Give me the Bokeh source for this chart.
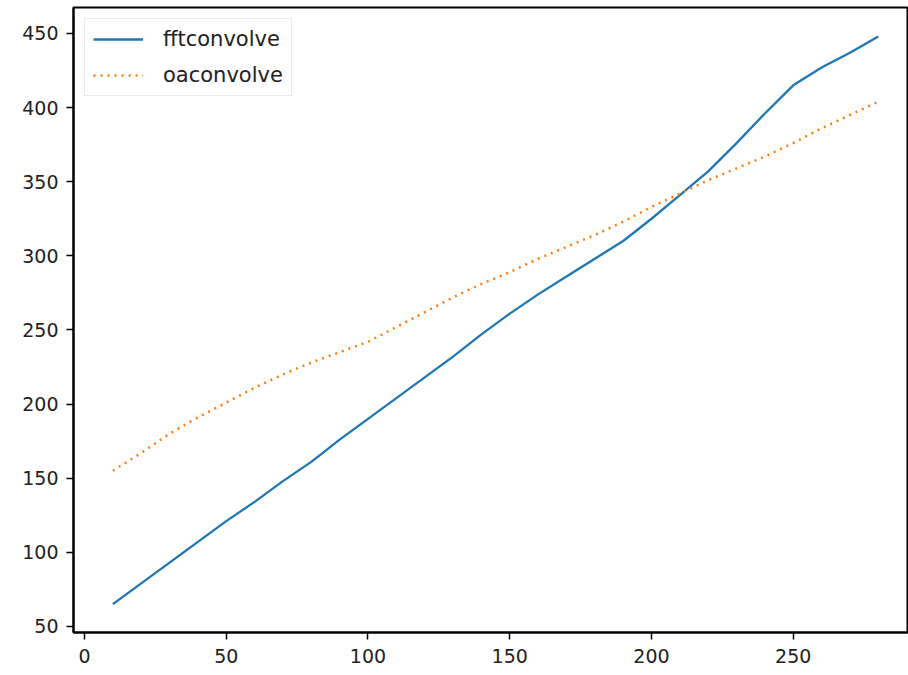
from bokeh.plotting import figure
from bokeh.models import Range1d, FixedTicker, Legend, LegendItem
from bokeh.embed import file_html
from bokeh.resources import INLINE

x_values = [10, 20, 30, 40, 50, 60, 70, 80, 90, 100, 110, 120, 130, 140,
            150, 160, 170, 180, 190, 200, 210, 220, 230, 240, 250, 260, 270, 280]
fftconvolve = [65, 79, 93, 107, 121, 134, 148, 161, 176, 190, 204, 218, 232, 247,
               261, 274, 286, 298, 310, 325, 341, 357, 376, 396, 415, 427, 437, 448]
oaconvolve = [155, 167, 180, 191, 201, 211, 220, 228, 235, 242, 252, 262, 272, 281,
              289, 298, 306, 314, 323, 333, 342, 351, 359, 367, 376, 386, 395, 404]
x_ticks = [0, 50, 100, 150, 200, 250]
y_ticks = [50, 100, 150, 200, 250, 300, 350, 400, 450]

p = figure(width=908, height=675, output_backend="svg", toolbar_location=None,
           x_range=Range1d(-3.88, 290.3), y_range=Range1d(45.9, 467.5))
p.min_border_left = 73
p.min_border_right = 1
p.min_border_top = 7
p.min_border_bottom = 43
p.background_fill_color = "white"
p.border_fill_color = "white"
p.outline_line_color = "black"
p.outline_line_width = 2
p.xgrid.visible = False
p.ygrid.visible = False

for ax in (p.xaxis[0], p.yaxis[0]):
    ax.axis_line_color = "black"
    ax.axis_line_width = 2
    ax.major_tick_line_color = "black"
    ax.major_tick_line_width = 1.5
    ax.major_tick_out = 7
    ax.major_tick_in = 0
    ax.minor_tick_line_color = None
    ax.major_label_text_font = "DejaVu Sans"
    ax.major_label_text_font_size = "19px"
    ax.major_label_text_color = "#222222"
p.xaxis[0].ticker = FixedTicker(ticks=x_ticks)
p.yaxis[0].ticker = FixedTicker(ticks=y_ticks)
p.xaxis[0].major_label_standoff = 9
p.yaxis[0].major_label_standoff = 8

r1 = p.line(x_values, fftconvolve, line_color="#1f77b4", line_width=2.3)
r2 = p.line(x_values, oaconvolve, line_color="#ff7f0e", line_width=2.5,
            line_dash="2 5")

legend = Legend(items=[LegendItem(label="fftconvolve", renderers=[r1]),
                       LegendItem(label="oaconvolve", renderers=[r2])],
                location="top_left")
legend.margin = 11
legend.padding = 8
legend.spacing = 12
legend.glyph_width = 50
legend.glyph_height = 20
legend.label_height = 20
legend.label_standoff = 20
legend.label_text_font = "DejaVu Sans"
legend.label_text_font_size = "21px"
legend.label_text_color = "#222222"
legend.border_line_color = "#d5d5d5"
legend.border_line_width = 1.5
legend.background_fill_color = "white"
legend.background_fill_alpha = 0.85
p.add_layout(legend)

open("out.html", "w").write(file_html(p, INLINE))
